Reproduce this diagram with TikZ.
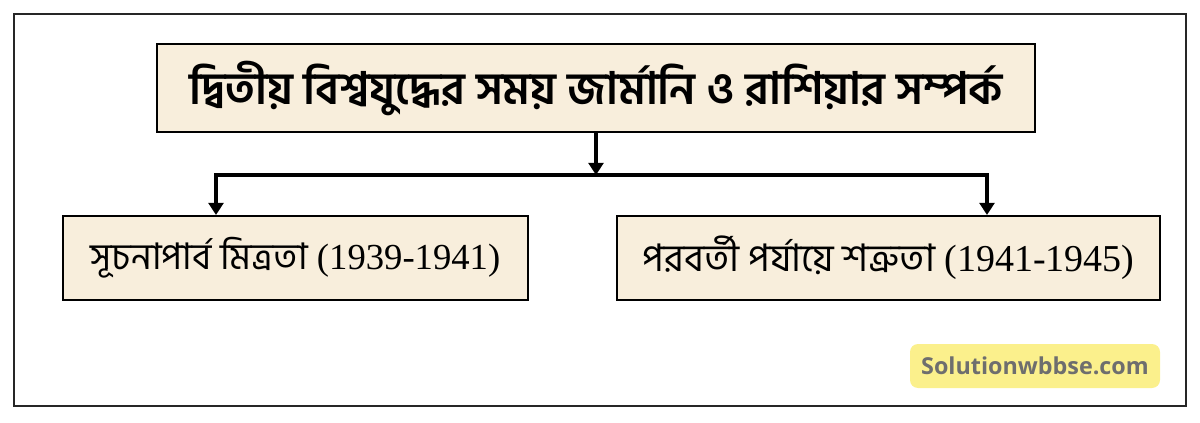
\documentclass[tikz,border=0pt]{standalone}
\usepackage{fontspec}
\setmainfont{Liberation Serif}
\newfontfamily\bnfont[Script=Bengali]{Hind Siliguri}
\newfontfamily\wmfont{Open Sans}
\usetikzlibrary{arrows.meta}
\definecolor{boxfill}{HTML}{F8EEDC}
\definecolor{wmfill}{HTML}{FBF08C}
\definecolor{wmtext}{HTML}{6E6E6E}

\begin{document}
\begin{tikzpicture}[x=0.75pt, y=0.75pt,
    >={Triangle[width=11pt,length=9pt]},
    box/.style={draw=black, line width=1.5pt, fill=boxfill, inner sep=0pt},
    link/.style={line width=2.6pt, line join=miter}]
    \useasboundingbox (0,0) rectangle (1200,422);
    % Outer frame
        \draw[line width=1.4pt, draw=black!85] (14,16) rectangle (1186,408);
    % Define boxes
        \node[box, minimum width=658.5pt, minimum height=66pt] (title) at (596,334)
            {\bnfont\bfseries\fontsize{33.5}{40}\selectfont দ্বিতীয় বিশ্বযুদ্ধের সময় জার্মানি ও রাশিয়ার সম্পর্ক};
        \node[box, minimum width=348.75pt, minimum height=63pt] (left) at (295.5,164)
            {\fontsize{27.5}{33}\selectfont{\bnfont সূচনাপার্ব মিত্রতা} (1939-1941)};
        \node[box, minimum width=407.25pt, minimum height=63pt] (right) at (888.5,164)
            {\fontsize{28.5}{34}\selectfont{\bnfont পরবর্তী পর্যায়ে শত্রুতা} (1941-1945)};
        \node[fill=wmfill, rounded corners=6pt, minimum width=187.5pt, minimum height=33pt] (wm) at (1035,56)
            {\wmfont\bfseries\color{wmtext}\fontsize{17.5}{21}\selectfont Solutionwbbse.com};
    % Draw arrows
        \coordinate (lt) at (216,247);
        \coordinate (rt) at (987,247);
        \draw[link, ->] (title.south) -- (title.south |- lt);
        \draw[link, <->] (lt |- left.north) -- (lt) -- (rt) -- (rt |- right.north);
\end{tikzpicture}
\end{document}
